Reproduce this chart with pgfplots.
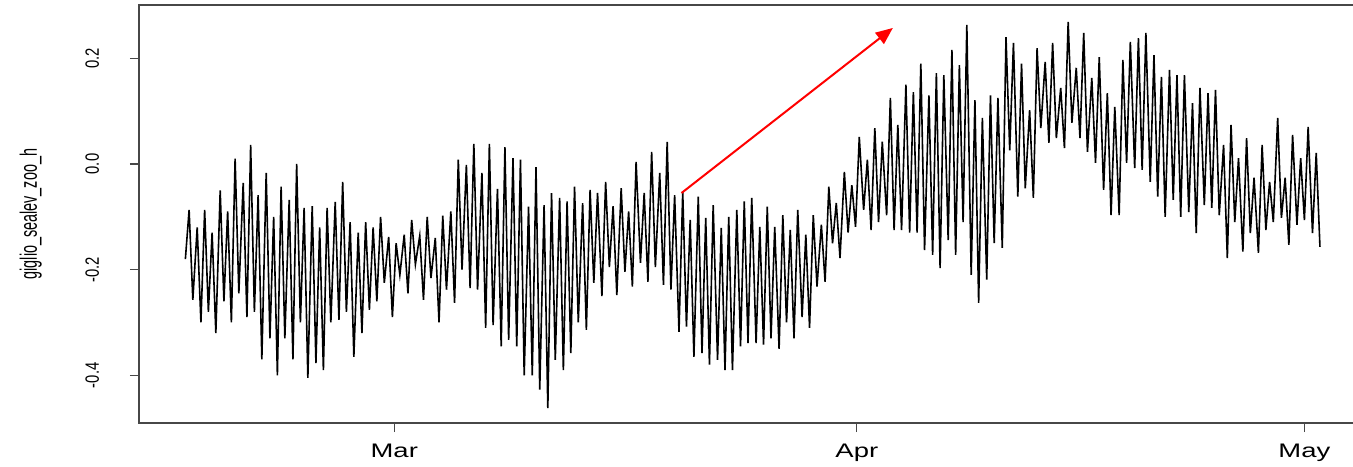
\documentclass[border=0pt]{standalone}
\usepackage{pgfplots}
\pgfplotsset{compat=1.18}
\usepackage{pgfplotstable}
\usepackage{fontspec}
\setmainfont{Liberation Sans}
\usetikzlibrary{arrows.meta}

% hourly sea level, Giglio: local highs and lows; h = hours since 15 Feb 00:00
\pgfplotstableread{
h lev
0 -0.180
6 -0.087
12 -0.257
19 -0.120
25 -0.300
31 -0.087
37 -0.280
43 -0.130
49 -0.320
56 -0.050
62 -0.260
68 -0.090
74 -0.300
80 0.010
86 -0.245
93 -0.036
99 -0.290
105 0.036
111 -0.280
117 -0.059
123 -0.370
130 -0.017
136 -0.330
142 -0.100
148 -0.400
154 -0.043
160 -0.330
167 -0.068
173 -0.370
179 0.000
185 -0.300
191 -0.083
197 -0.405
204 -0.080
210 -0.377
216 -0.120
222 -0.390
228 -0.083
234 -0.300
241 -0.072
247 -0.295
253 -0.034
259 -0.280
265 -0.110
271 -0.365
278 -0.130
284 -0.320
290 -0.110
296 -0.276
302 -0.120
308 -0.260
314 -0.100
320 -0.225
327 -0.138
333 -0.290
339 -0.150
345 -0.210
352 -0.134
358 -0.245
364 -0.106
370 -0.190
377 -0.136
383 -0.257
389 -0.100
395 -0.216
402 -0.140
408 -0.300
414 -0.098
420 -0.238
427 -0.090
433 -0.263
439 0.008
445 -0.200
452 -0.002
458 -0.235
464 0.038
470 -0.238
477 -0.017
483 -0.310
489 0.038
495 -0.305
502 -0.047
508 -0.345
514 0.032
520 -0.333
527 0.011
533 -0.345
539 0.008
545 -0.400
552 -0.081
558 -0.400
564 -0.006
570 -0.427
577 -0.078
583 -0.462
589 -0.055
595 -0.371
602 -0.064
608 -0.390
614 -0.071
620 -0.358
626 -0.043
632 -0.300
639 -0.074
645 -0.314
651 -0.049
657 -0.225
663 -0.055
670 -0.250
676 -0.034
682 -0.195
688 -0.080
694 -0.248
701 -0.046
707 -0.204
713 -0.090
719 -0.232
725 0.004
732 -0.187
738 -0.055
744 -0.223
750 0.023
756 -0.195
763 -0.017
769 -0.229
775 0.042
781 -0.238
787 -0.059
794 -0.318
800 -0.053
806 -0.308
812 -0.106
818 -0.365
825 -0.062
831 -0.358
837 -0.102
843 -0.380
849 -0.078
856 -0.371
862 -0.121
868 -0.390
874 -0.100
880 -0.390
887 -0.087
893 -0.345
899 -0.071
905 -0.339
911 -0.064
918 -0.339
924 -0.119
930 -0.342
936 -0.081
942 -0.330
948 -0.119
955 -0.350
961 -0.097
967 -0.300
973 -0.125
979 -0.330
985 -0.087
992 -0.290
998 -0.134
1004 -0.310
1010 -0.097
1016 -0.232
1023 -0.115
1029 -0.223
1035 -0.043
1041 -0.150
1047 -0.074
1053 -0.178
1060 -0.015
1066 -0.130
1072 -0.040
1078 -0.119
1084 0.051
1091 -0.087
1097 0.008
1103 -0.125
1109 0.068
1115 -0.110
1121 0.042
1128 -0.097
1134 0.125
1140 -0.125
1146 0.074
1152 -0.125
1159 0.150
1165 -0.130
1171 0.136
1177 -0.130
1183 0.190
1189 -0.163
1196 0.130
1202 -0.172
1208 0.172
1214 -0.197
1220 0.168
1227 -0.144
1233 0.216
1239 -0.172
1245 0.187
1251 -0.110
1257 0.263
1264 -0.210
1270 0.121
1276 -0.263
1282 0.087
1289 -0.219
1295 0.130
1301 -0.150
1307 0.125
1314 -0.159
1320 0.240
1326 0.026
1332 0.229
1339 -0.062
1345 0.190
1351 -0.046
1358 0.102
1364 -0.064
1370 0.219
1376 0.068
1383 0.193
1389 0.040
1395 0.229
1401 0.049
1408 0.144
1414 0.030
1420 0.269
1426 0.078
1433 0.182
1439 0.049
1445 0.248
1451 0.023
1458 0.163
1464 0.002
1470 0.202
1477 -0.049
1483 0.134
1489 -0.097
1495 0.108
1502 -0.097
1508 0.197
1514 0.002
1520 0.231
1527 -0.008
1533 0.238
1539 -0.011
1545 0.248
1552 -0.034
1558 0.206
1564 -0.062
1570 0.165
1576 -0.100
1583 0.178
1589 -0.068
1595 0.168
1601 -0.100
1607 0.168
1614 -0.091
1620 0.115
1626 -0.131
1632 0.144
1639 -0.078
1645 0.134
1651 -0.083
1657 0.140
1663 -0.097
1670 0.036
1676 -0.178
1682 0.074
1688 -0.110
1694 0.011
1701 -0.166
1707 0.049
1713 -0.131
1719 -0.026
1726 -0.168
1732 0.036
1738 -0.125
1744 -0.034
1750 -0.110
1757 0.087
1763 -0.102
1769 -0.026
1775 -0.153
1781 0.055
1788 -0.115
1794 0.011
1800 -0.106
1806 0.070
1813 -0.131
1819 0.021
1825 -0.157
}\sealev

\begin{document}
\begin{tikzpicture}
\begin{axis}[
  scale only axis,
  width=608.5pt, height=209pt,
  xmin=-74.6, xmax=1883.0,
  ymin=-0.4903, ymax=0.3009,
  axis line style={black!72, line width=0.6pt},
  tick style={black!72, line width=0.6pt},
  tick align=outside,
  xtick pos=bottom, ytick pos=left,
  major tick length=4.5pt,
  xtick={336,1080,1800},
  xticklabels={Mar,Apr,May},
  ytick={-0.4,-0.2,0,0.2},
  yticklabels={-0.4,-0.2,0.0,0.2},
  xticklabel style={font=\fontsize{9.8}{10}\selectfont, anchor=base, yshift=-12.5pt, xscale=1.4},
  yticklabel style={font=\fontsize{7.4}{8}\selectfont, anchor=base, xshift=-15.5pt, xscale=1.3, rotate=90},
  every axis y label/.style={at={(rel axis cs:0,0.5)}, anchor=base, xshift=-51pt, xscale=1.65, rotate=90, font=\fontsize{7.2}{8}\selectfont},
  ylabel={giglio\_sealev\_zoo\_h},
]
\addplot[black, line width=0.8pt] table[x=h, y=lev] {\sealev};
\draw[red, line width=1pt, -{Triangle[length=8.5pt, width=7pt]}] (axis cs:798,-0.055) -- (axis cs:1138,0.2574);
\coordinate (SW) at (rel axis cs:0,0);
\coordinate (NE) at (rel axis cs:1,1);
\end{axis}
\pgfresetboundingbox
\path[use as bounding box] ([shift={(-69.5pt,-21.5pt)}]SW) rectangle ([shift={(-1.5pt,2.5pt)}]NE);
\end{tikzpicture}
\end{document}
